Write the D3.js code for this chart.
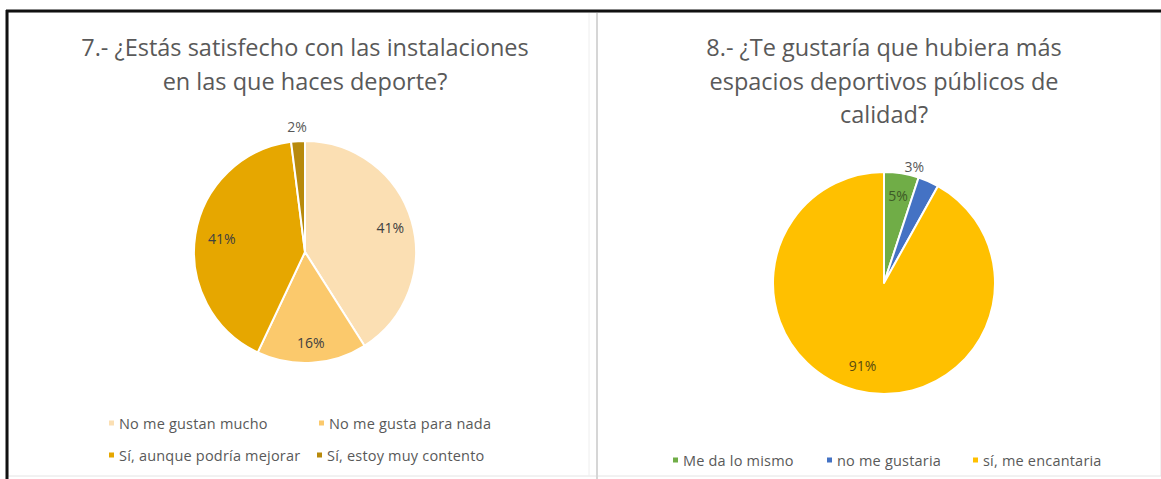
<!DOCTYPE html>
<html>
<head>
<meta charset="utf-8">
<script src="https://cdn.jsdelivr.net/npm/d3@7"></script>
<style>
  html, body { margin: 0; padding: 0; background: #fff; }
  svg { display: block; }
  text { font-family: "Open Sans", Lato, sans-serif; }
</style>
</head>
<body>
<svg id="chart" width="1161" height="479"></svg>
<script>
// Pregunta 7
const q7Title = ["7.- ¿Estás satisfecho con las instalaciones", "en las que haces deporte?"];
const q7Categories = ["No me gustan mucho", "No me gusta para nada", "Sí, aunque podría mejorar", "Sí, estoy muy contento"];
const q7Values = [41, 16, 41, 2];
const q7Colors = ["#FBDFB3", "#FBC96C", "#E6A700", "#B88A0C"];

// Pregunta 8
const q8Title = ["8.- ¿Te gustaría que hubiera más", "espacios deportivos públicos de", "calidad?"];
const q8Categories = ["Me da lo mismo", "no me gustaria", "sí, me encantaria"];
const q8Values = [5, 3, 91];
const q8Colors = ["#70AD47", "#4472C4", "#FFC000"];

const svg = d3.select("#chart");

// Frame: dark edges on top/left, light panel borders
svg.append("rect").attr("x", 8).attr("y", 12).attr("width", 1153).attr("height", 464)
  .attr("fill", "#fff").attr("stroke", "#e4e4e4").attr("stroke-width", 1);
svg.append("line").attr("x1", 589).attr("x2", 589).attr("y1", 13).attr("y2", 476)
  .attr("stroke", "#eeeeee").attr("stroke-width", 1);
svg.append("line").attr("x1", 597).attr("x2", 597).attr("y1", 13).attr("y2", 479)
  .attr("stroke", "#d6d6d6").attr("stroke-width", 2);
svg.append("line").attr("x1", 6).attr("x2", 1161).attr("y1", 11).attr("y2", 11)
  .attr("stroke", "#111").attr("stroke-width", 3);
svg.append("line").attr("x1", 7).attr("x2", 7).attr("y1", 10).attr("y2", 479)
  .attr("stroke", "#111").attr("stroke-width", 3);

function drawPie(cfg) {
  const g = svg.append("g");

  // Title
  g.selectAll("text.title").data(cfg.title).join("text")
    .attr("class", "title")
    .attr("x", cfg.cx)
    .attr("y", (d, i) => cfg.titleY + i * 33.5)
    .attr("text-anchor", "middle")
    .attr("font-size", 23.5)
    .attr("fill", "#595959")
    .text(d => d);

  const pie = d3.pie().sort(null).value(d => d.v);
  const data = cfg.values.map((v, i) => ({ v, cat: cfg.categories[i], color: cfg.colors[i], i }));
  const arcs = pie(data);
  const arc = d3.arc().innerRadius(0).outerRadius(cfg.r);

  const pg = g.append("g").attr("transform", `translate(${cfg.cx},${cfg.cy})`);
  pg.selectAll("path").data(arcs).join("path")
    .attr("d", arc)
    .attr("fill", d => d.data.color)
    .attr("stroke", "#fff")
    .attr("stroke-width", 2)
    .attr("stroke-linejoin", "round");

  // Data labels (values are already percentages)
  pg.selectAll("text.lbl").data(arcs).join("text")
    .attr("class", "lbl")
    .each(function (d) {
      const a = (d.startAngle + d.endAngle) / 2;
      const k = cfg.labelRadius[d.data.i] * cfg.r;
      d3.select(this)
        .attr("x", Math.sin(a) * k + (cfg.labelDx[d.data.i] || 0))
        .attr("y", -Math.cos(a) * k);
    })
    .attr("text-anchor", "middle")
    .attr("dominant-baseline", "central")
    .attr("font-size", 14)
    .attr("fill", d => cfg.labelColors[d.data.i])
    .text(d => d.data.v + "%");

  // Legend
  const lg = g.append("g");
  cfg.legend.forEach((pos, i) => {
    lg.append("rect")
      .attr("x", pos[0]).attr("y", pos[1] - 2.5)
      .attr("width", 5).attr("height", 5)
      .attr("fill", cfg.colors[i]);
    lg.append("text")
      .attr("x", pos[0] + 10).attr("y", pos[1])
      .attr("dominant-baseline", "central")
      .attr("font-size", 14.5)
      .attr("letter-spacing", 0.2)
      .attr("fill", "#595959")
      .text(cfg.categories[i]);
  });
}

drawPie({
  title: q7Title, categories: q7Categories, values: q7Values, colors: q7Colors,
  cx: 305, cy: 252, r: 111, titleY: 56,
  labelRadius: [0.8, 0.82, 0.76, 1.13],
  labelDx: [0, 0, 0, 0],
  labelColors: ["#404040", "#404040", "#404040", "#595959"],
  legend: [[109, 423], [319, 423], [109, 455], [317, 455]]
});

drawPie({
  title: q8Title, categories: q8Categories, values: q8Values, colors: q8Colors,
  cx: 884, cy: 283, r: 111, titleY: 56,
  labelRadius: [0.8, 1.15, 0.77],
  labelDx: [0, -21, 0],
  labelColors: ["#3d5a26", "#595959", "#5a4a10"],
  legend: [[673, 460], [827, 460], [973, 460]]
});
</script>
</body>
</html>
